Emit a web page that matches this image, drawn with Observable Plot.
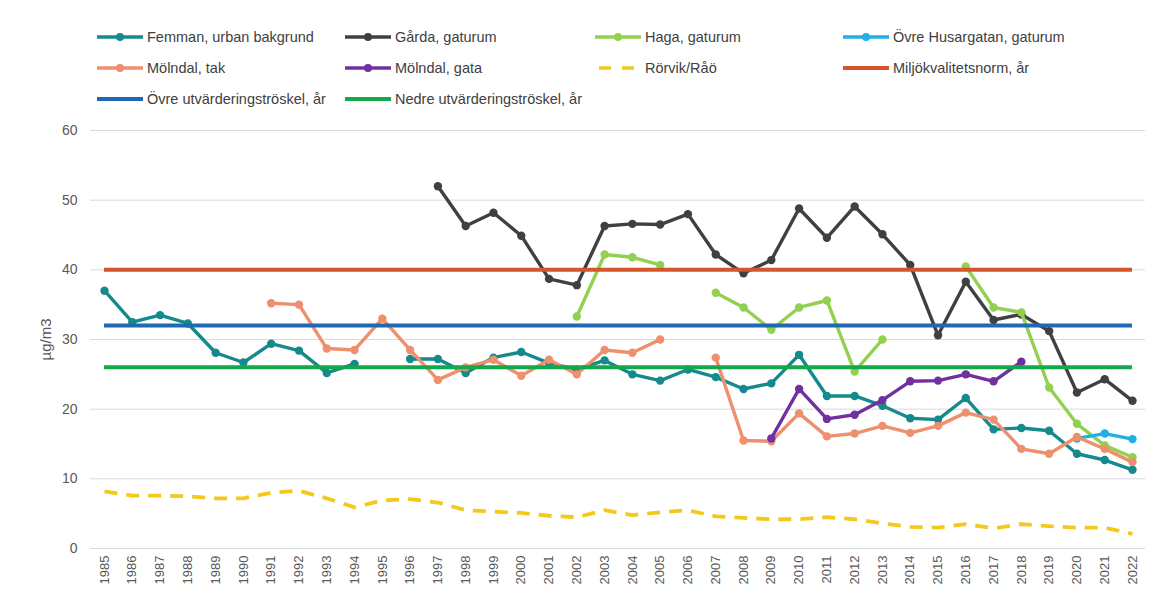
<!DOCTYPE html>
<html><head><meta charset="utf-8">
<script src="https://cdn.jsdelivr.net/npm/d3@7"></script>
<script src="https://cdn.jsdelivr.net/npm/@observablehq/plot@0.6"></script>
<style>
body{margin:0;background:#fff;font-family:"Liberation Sans",Arial,sans-serif;}
#legend{position:relative;height:115px;width:1155px;}
.item{position:absolute;display:flex;align-items:center;font-size:14.5px;color:#404040;white-space:nowrap;height:16px;}
.item svg{margin-right:4px;}
</style></head><body>
<div id="legend"></div><div id="chart"></div>
<script>
const years = [1985,1986,1987,1988,1989,1990,1991,1992,1993,1994,1995,1996,1997,1998,1999,2000,2001,2002,2003,2004,2005,2006,2007,2008,2009,2010,2011,2012,2013,2014,2015,2016,2017,2018,2019,2020,2021,2022];
const yTicks = [0,10,20,30,40,50,60];

const femman = [37.0,32.5,33.5,32.3,28.1,26.7,29.4,28.4,25.2,26.5,null,27.2,27.2,25.2,27.4,28.2,26.6,25.7,27.0,25.0,24.1,25.7,24.6,22.9,23.7,27.8,21.9,21.9,20.5,18.7,18.5,21.6,17.1,17.3,16.9,13.6,12.7,11.3];
const garda = [null,null,null,null,null,null,null,null,null,null,null,null,52.0,46.3,48.2,44.9,38.7,37.8,46.3,46.6,46.5,48.0,42.2,39.5,41.4,48.8,44.6,49.1,45.1,40.7,30.6,38.3,32.8,33.6,31.2,22.4,24.3,21.2];
const haga = [null,null,null,null,null,null,null,null,null,null,null,null,null,null,null,null,null,33.3,42.2,41.8,40.7,null,36.7,34.6,31.4,34.6,35.6,25.4,30.0,null,null,40.5,34.6,33.9,23.1,17.9,14.8,13.1];
const husargatan = [null,null,null,null,null,null,null,null,null,null,null,null,null,null,null,null,null,null,null,null,null,null,null,null,null,null,null,null,null,null,null,null,null,null,null,15.8,16.5,15.7];
const molndalTak = [null,null,null,null,null,null,35.2,35.0,28.7,28.5,33.0,28.5,24.2,26.0,27.1,24.8,27.1,25.0,28.5,28.1,30.0,null,27.4,15.5,15.4,19.4,16.1,16.5,17.6,16.6,17.6,19.5,18.5,14.3,13.6,16.0,14.3,12.4];
const molndalGata = [null,null,null,null,null,null,null,null,null,null,null,null,null,null,null,null,null,null,null,null,null,null,null,null,15.8,22.9,18.6,19.2,21.3,24.0,24.1,25.0,24.0,26.8,null,null,null,null];
const rorvik = [8.2,7.6,7.6,7.5,7.2,7.2,8.0,8.3,7.2,5.9,6.9,7.1,6.6,5.5,5.3,5.1,4.7,4.5,5.5,4.8,5.2,5.5,4.6,4.4,4.2,4.2,4.5,4.2,3.6,3.1,3.0,3.5,2.9,3.5,3.2,3.0,3.0,2.1];
const miljokvalitetsnorm = 40;
const ovreTroskel = 32;
const nedreTroskel = 26;

const seriesNames = ["Femman, urban bakgrund","Gårda, gaturum","Haga, gaturum","Övre Husargatan, gaturum","Mölndal, tak","Mölndal, gata","Rörvik/Råö"];
const seriesValues = [femman, garda, haga, husargatan, molndalTak, molndalGata, rorvik];
const seriesColors = ["#158A8C","#404040","#92D050","#22AEE6","#EE8F6E","#7030A0","#F4C91E"];
const refNames = ["Miljökvalitetsnorm, år","Övre utvärderingströskel, år","Nedre utvärderingströskel, år"];
const refValues = [miljokvalitetsnorm, ovreTroskel, nedreTroskel];
const refColors = ["#D4562A","#2068B0","#13A84A"];

// legend
const legendItems = [
  {name: seriesNames[0], color: seriesColors[0], kind:"marker", col:0,row:0},
  {name: seriesNames[1], color: seriesColors[1], kind:"marker", col:1,row:0},
  {name: seriesNames[2], color: seriesColors[2], kind:"marker", col:2,row:0},
  {name: seriesNames[3], color: seriesColors[3], kind:"marker", col:3,row:0},
  {name: seriesNames[4], color: seriesColors[4], kind:"marker", col:0,row:1},
  {name: seriesNames[5], color: seriesColors[5], kind:"marker", col:1,row:1},
  {name: seriesNames[6], color: seriesColors[6], kind:"dash", col:2,row:1},
  {name: refNames[0], color: refColors[0], kind:"line", col:3,row:1},
  {name: refNames[1], color: refColors[1], kind:"line", col:0,row:2},
  {name: refNames[2], color: refColors[2], kind:"line", col:1,row:2}
];
const colX = [97,345,595,843], rowY = [37,68,99];
const legend = document.getElementById("legend");
for (const it of legendItems) {
  const d = document.createElement("div");
  d.className = "item";
  d.style.left = colX[it.col] + "px";
  d.style.top = (rowY[it.row] - 8) + "px";
  let sw;
  if (it.kind === "marker") sw = `<line x1="0" y1="6" x2="46" y2="6" stroke="${it.color}" stroke-width="3.5"/><circle cx="23" cy="6" r="4" fill="${it.color}"/>`;
  else if (it.kind === "dash") sw = `<line x1="4" y1="6" x2="46" y2="6" stroke="${it.color}" stroke-width="3.5" stroke-dasharray="12,11"/>`;
  else sw = `<line x1="0" y1="6" x2="46" y2="6" stroke="${it.color}" stroke-width="4"/>`;
  d.innerHTML = `<svg width="46" height="12">${sw}</svg><span>${it.name}</span>`;
  legend.appendChild(d);
}

const marks = [
  Plot.gridY(yTicks, {stroke:"#d9d9d9", strokeOpacity:1}),
  Plot.axisY(yTicks, {tickSize:0, tickPadding:13, fontSize:14, color:"#595959", label:"µg/m3", labelAnchor:"center", labelOffset:50, labelArrow:"none"}),
  Plot.axisX(years, {tickFormat:d=>String(d), tickRotate:-90, tickSize:0, tickPadding:7, fontSize:13, color:"#595959", label:null})
];
seriesValues.forEach((vals, i) => {
  const data = years.map((yr, j) => ({year: yr, value: vals[j]}));
  const isDash = i === 6;
  marks.push(Plot.line(data, {x:"year", y:"value", stroke:seriesColors[i], strokeWidth: isDash ? 3.8 : 3.4, strokeDasharray: isDash ? "13,9" : null, strokeLinejoin:"round", strokeLinecap: isDash ? "butt" : "round"}));
  if (!isDash) marks.push(Plot.dot(data.filter(d => d.value != null), {x:"year", y:"value", r:4.2, fill:seriesColors[i], stroke:null}));
});
refValues.forEach((v, i) => {
  marks.push(Plot.ruleY([v], {x1:years[0], x2:years[years.length-1], stroke:refColors[i], strokeWidth:4}));
});

const chart = Plot.plot({
  width:1155, height:479,
  marginLeft:90, marginRight:10, marginTop:15, marginBottom:46,
  style:{fontFamily:"'Liberation Sans', Arial, sans-serif", background:"#fff"},
  x:{type:"linear", domain:[1985,2022], insetLeft:14, insetRight:13},
  y:{domain:[0,60]},
  marks
});
chart.querySelectorAll("[aria-label='y-axis label'] text, [aria-label='y-axis label']").forEach(el => el.setAttribute("font-size", "15"));
document.getElementById("chart").appendChild(chart);
</script>
</body></html>
